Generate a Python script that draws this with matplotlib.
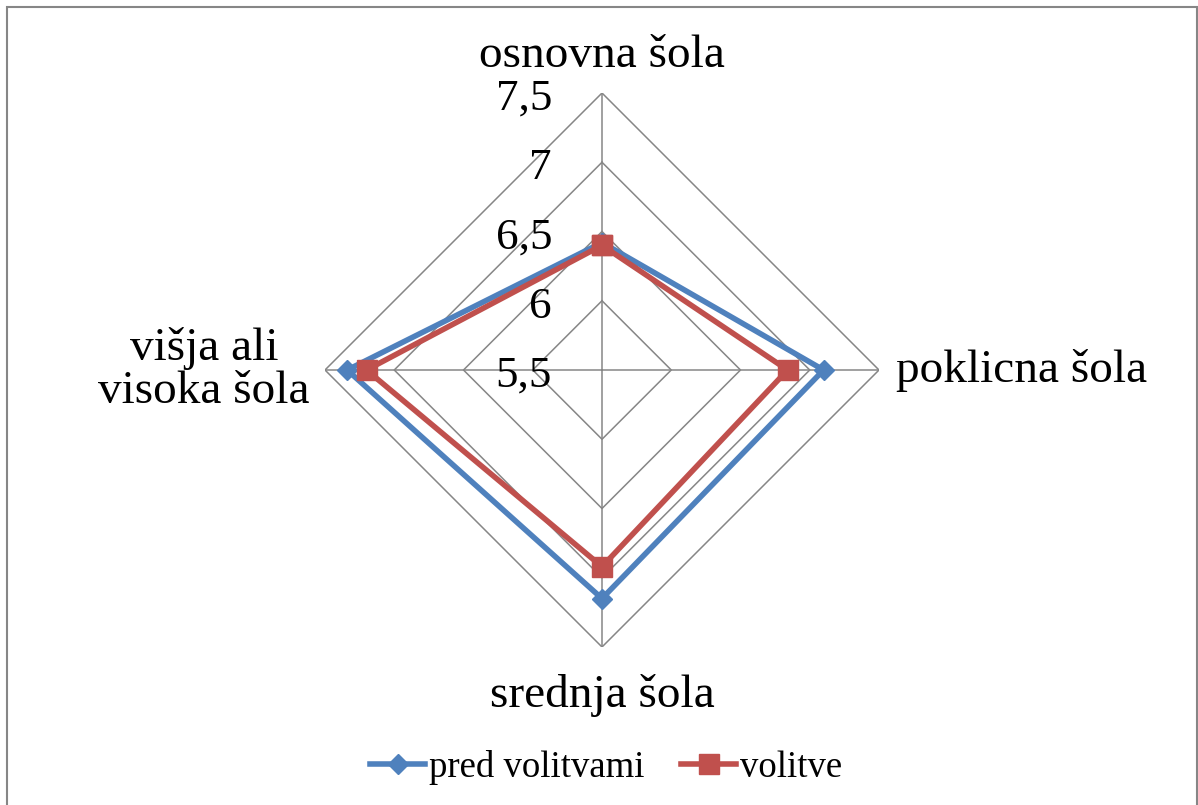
import numpy as np
import matplotlib
matplotlib.use('Agg')
import matplotlib.pyplot as plt
from matplotlib.patches import Rectangle
from matplotlib.transforms import offset_copy

plt.rcParams['font.family'] = ['Liberation Serif', 'DejaVu Serif']

# data
categories = ['osnovna šola', 'poklicna šola', 'srednja šola', 'višja ali\nvisoka šola']
pred_volitvami = [6.42, 7.10, 7.15, 7.34]
volitve = [6.40, 6.84, 6.92, 7.20]
levels = [5.5, 6.0, 6.5, 7.0, 7.5]
level_labels = ['5,5', '6', '6,5', '7', '7,5']

blue = '#4F81BD'
red = '#C0504D'
grid_col = '#868686'

fig = plt.figure(figsize=(11.98, 8.05), dpi=100)
W, H = 1198, 805
cx, cy, R = 602, 370, 277
ax = fig.add_axes([(cx - R) / W, (H - cy - R) / H, 2 * R / W, 2 * R / H], projection='polar')
ax.set_theta_zero_location('N')
ax.set_theta_direction(-1)
ax.set_ylim(5.5, 7.5)
ax.set_xticks([])
ax.set_yticks([])
ax.grid(False)
ax.spines['polar'].set_visible(False)
ax.patch.set_alpha(0)

theta = np.linspace(0, 2 * np.pi, len(categories), endpoint=False)
theta_c = np.append(theta, theta[0])

# diamond gridlines and spokes
for lv in levels[1:]:
    ax.plot(theta_c, [lv] * len(theta_c), color=grid_col, lw=1.1, zorder=1)
for t in theta:
    ax.plot([t, t], [5.5, 7.5], color=grid_col, lw=1.1, zorder=1)

l1, = ax.plot(theta_c, pred_volitvami + pred_volitvami[:1], color=blue, lw=4,
              marker='D', ms=10.5, zorder=3, label='pred volitvami', clip_on=False)
l2, = ax.plot(theta_c, volitve + volitve[:1], color=red, lw=4,
              marker='s', ms=14, zorder=4, label='volitve', clip_on=False)

# value labels left of the top spoke
tr = offset_copy(ax.transData, fig=fig, x=-50, y=-6, units='dots')
for lv, lab in zip(levels, level_labels):
    ax.text(0, lv, lab, transform=tr, ha='right', va='center', fontsize=32.5)

# category labels
ax.text(theta[0], 7.77, categories[0], ha='center', va='center', fontsize=34, clip_on=False)
ax.text(theta[1], 7.62, categories[1], ha='left', va='center', fontsize=34, clip_on=False)
ax.text(theta[2], 7.85, categories[2], ha='center', va='center', fontsize=34, clip_on=False)
ax.text(theta[3], 7.61, categories[3], ha='right', va='center', fontsize=34,
        multialignment='center', linespacing=1.0, clip_on=False)

fig.legend(handles=[l1, l2], loc='center', bbox_to_anchor=(0.506, 1 - 767 / H), ncol=2,
           frameon=False, fontsize=26.5, handlelength=1.5, handletextpad=0.1,
           columnspacing=1.0, borderpad=0)

fig.add_artist(Rectangle((7 / W, -0.05), (W - 8) / W, (H - 7) / H + 0.05,
                         transform=fig.transFigure, fill=False, edgecolor=grid_col, lw=1.5))

fig.savefig('out.png', dpi=100, facecolor='white')
